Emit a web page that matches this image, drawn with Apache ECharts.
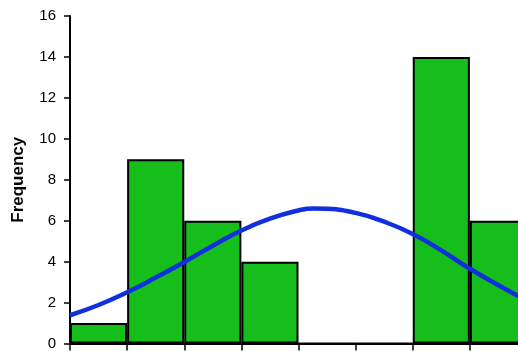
<!DOCTYPE html>
<html>
<head>
<meta charset="utf-8">
<script src="https://cdn.jsdelivr.net/npm/echarts@6/dist/echarts.min.js"></script>
<style>
html,body{margin:0;padding:0;background:#fff;overflow:hidden;width:518px;height:351px;}
#chart{width:527px;height:351px;}
</style>
</head>
<body>
<div id="chart"></div>
<script>
var binLabels = ['1','2','3','4','5','6','7','8'];
var frequencies = [1, 9, 6, 4, 0, 0, 14, 6];
var yTicks = [0, 2, 4, 6, 8, 10, 12, 14, 16];
// normal curve: position in bin units, frequency
var curveX = [0, 0.5, 1, 1.5, 2, 2.5, 3, 3.5, 4, 4.26, 4.5, 5, 5.5, 6, 6.5, 7, 7.5, 8];
var curveY = [1.38, 1.88, 2.5, 3.22, 3.98, 4.78, 5.52, 6.1, 6.5, 6.6, 6.58, 6.38, 5.95, 5.35, 4.55, 3.65, 2.85, 2.1];

var curveData = curveX.map(function (x, i) { return [x, curveY[i]]; });

var chart = echarts.init(document.getElementById('chart'), null, {renderer: 'canvas'});
chart.setOption({
  animation: false,
  backgroundColor: '#ffffff',
  grid: {left: 70, right: 0, top: 16, bottom: 7, containLabel: false},
  xAxis: [{
    type: 'category',
    data: binLabels,
    boundaryGap: true,
    axisLine: {show: true, lineStyle: {color: '#000', width: 2}},
    axisTick: {show: true, length: 7, lineStyle: {color: '#000', width: 1.5}},
    axisLabel: {show: false},
    splitLine: {show: false}
  }, {
    type: 'value',
    min: 0,
    max: 8,
    show: false
  }],
  yAxis: {
    type: 'value',
    min: yTicks[0],
    max: yTicks[yTicks.length - 1],
    interval: 2,
    name: 'Frequency',
    nameLocation: 'middle',
    nameGap: 43,
    nameTextStyle: {fontFamily: 'Liberation Sans, Arial', fontWeight: 'bold', fontSize: 17, color: '#000'},
    axisLine: {show: true, lineStyle: {color: '#000', width: 2}},
    axisTick: {show: true, length: 6, lineStyle: {color: '#000', width: 1.5}},
    axisLabel: {margin: 14, fontFamily: 'Liberation Sans, Arial', fontSize: 15, color: '#000'},
    splitLine: {show: false}
  },
  series: [{
    type: 'bar',
    xAxisIndex: 0,
    data: frequencies,
    barWidth: '100%',
    barCategoryGap: 0,
    itemStyle: {color: '#15BE1A', borderColor: '#000', borderWidth: 2}
  }, {
    type: 'line',
    xAxisIndex: 1,
    data: curveData,
    smooth: 0.5,
    symbol: 'none',
    clip: false,
    lineStyle: {color: '#1030DD', width: 4.5}
  }]
});
</script>
</body>
</html>
